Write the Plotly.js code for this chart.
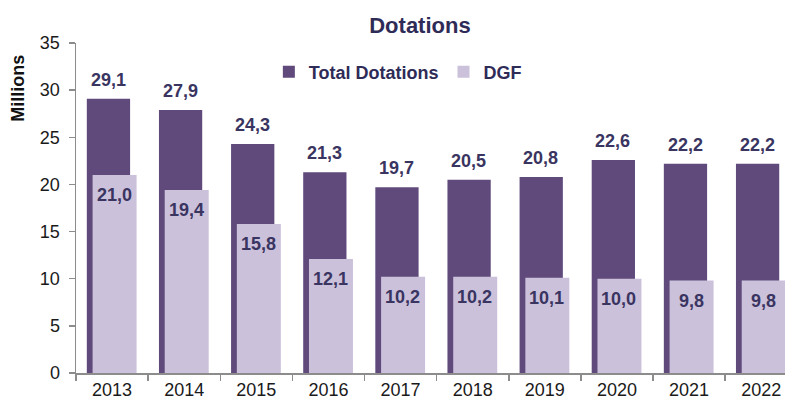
<!DOCTYPE html>
<html>
<head>
<meta charset="utf-8">
<script src="https://cdn.plot.ly/plotly-3.0.1.min.js"></script>
<style>html,body{margin:0;padding:0;background:#fff;}#chart{width:785px;height:401px;}</style>
</head>
<body>
<div id="chart"></div>
<script>
const years = ['2013','2014','2015','2016','2017','2018','2019','2020','2021','2022'];
const totalDotations = [29.1, 27.9, 24.3, 21.3, 19.7, 20.5, 20.8, 22.6, 22.2, 22.2];
const dgf = [21.0, 19.4, 15.8, 12.1, 10.2, 10.2, 10.1, 10.0, 9.8, 9.8];
const seriesNames = ['Total Dotations', 'DGF'];

const cTotal = '#5f4a7b';
const cDGF = '#cbc1db';
const cLabel = '#3a3461';
const FONT = 'Arial, Liberation Sans, sans-serif';
const fmt = v => v.toFixed(1).replace('.', ',');

const traces = [
  {type:'bar', name:seriesNames[0], x:years, y:totalDotations, marker:{color:cTotal},
   offset:-0.35, width:0.6, hoverinfo:'none'},
  {type:'bar', name:seriesNames[1], x:years, y:dgf, marker:{color:cDGF},
   offset:-0.27, width:0.61, hoverinfo:'none'}
];

const annotations = [];
years.forEach((yr,i)=>{
  annotations.push({x:i, y:totalDotations[i], xref:'x', yref:'y', text:'<b>'+fmt(totalDotations[i])+'</b>',
    showarrow:false, xanchor:'center', yanchor:'bottom', yshift:7, xshift:-4,
    font:{family:FONT, size:18, color:cLabel}});
  annotations.push({x:i, y:dgf[i], xref:'x', yref:'y', text:'<b>'+fmt(dgf[i])+'</b>',
    showarrow:false, xanchor:'center', yanchor:'top', yshift:-8, xshift:2,
    font:{family:FONT, size:18, color:cLabel}});
});
annotations.push({xref:'paper', yref:'paper', x:-0.082, y:0.864, text:'<b>Millions</b>', textangle:-90,
  showarrow:false, xanchor:'center', yanchor:'middle',
  font:{family:FONT, size:18, color:'#111'}});

const layout = {
  width:785, height:401,
  margin:{l:76, r:0, t:43, b:28},
  paper_bgcolor:'#fff', plot_bgcolor:'#fff',
  barmode:'overlay',
  showlegend:true,
  title:{text:'<b>Dotations</b>', xref:'container', yref:'container', x:0.535, y:0.938,
    xanchor:'center', yanchor:'middle',
    font:{family:FONT, size:22, color:'#2f2b57'}},
  legend:{orientation:'h', x:0.272, y:0.912, xanchor:'left', yanchor:'middle',
    font:{family:FONT, size:18, color:'#2f2b57', weight:'bold'},
    itemwidth:30, bgcolor:'rgba(0,0,0,0)', tracegroupgap:0},
  xaxis:{type:'category', range:[-0.5, 9.33], showgrid:false, zeroline:false,
    showline:true, linecolor:'#8c8c8c', linewidth:1.5,
    ticks:'outside', tickson:'boundaries', ticklen:6, tickcolor:'#8c8c8c', tickwidth:1.5,
    tickfont:{family:FONT, size:18, color:'#1a1a1a'},
    automargin:false},
  yaxis:{range:[0,35], dtick:5, showgrid:false, zeroline:false,
    showline:true, linecolor:'#8c8c8c', linewidth:1.5,
    ticks:'outside', ticklen:6, tickcolor:'#8c8c8c', tickwidth:1.5, ticklabelstandoff:5,
    tickfont:{family:FONT, size:18, color:'#1a1a1a'},
    automargin:false},
  annotations:annotations
};

Plotly.newPlot('chart', traces, layout, {displayModeBar:false, staticPlot:true});
</script>
</body>
</html>
